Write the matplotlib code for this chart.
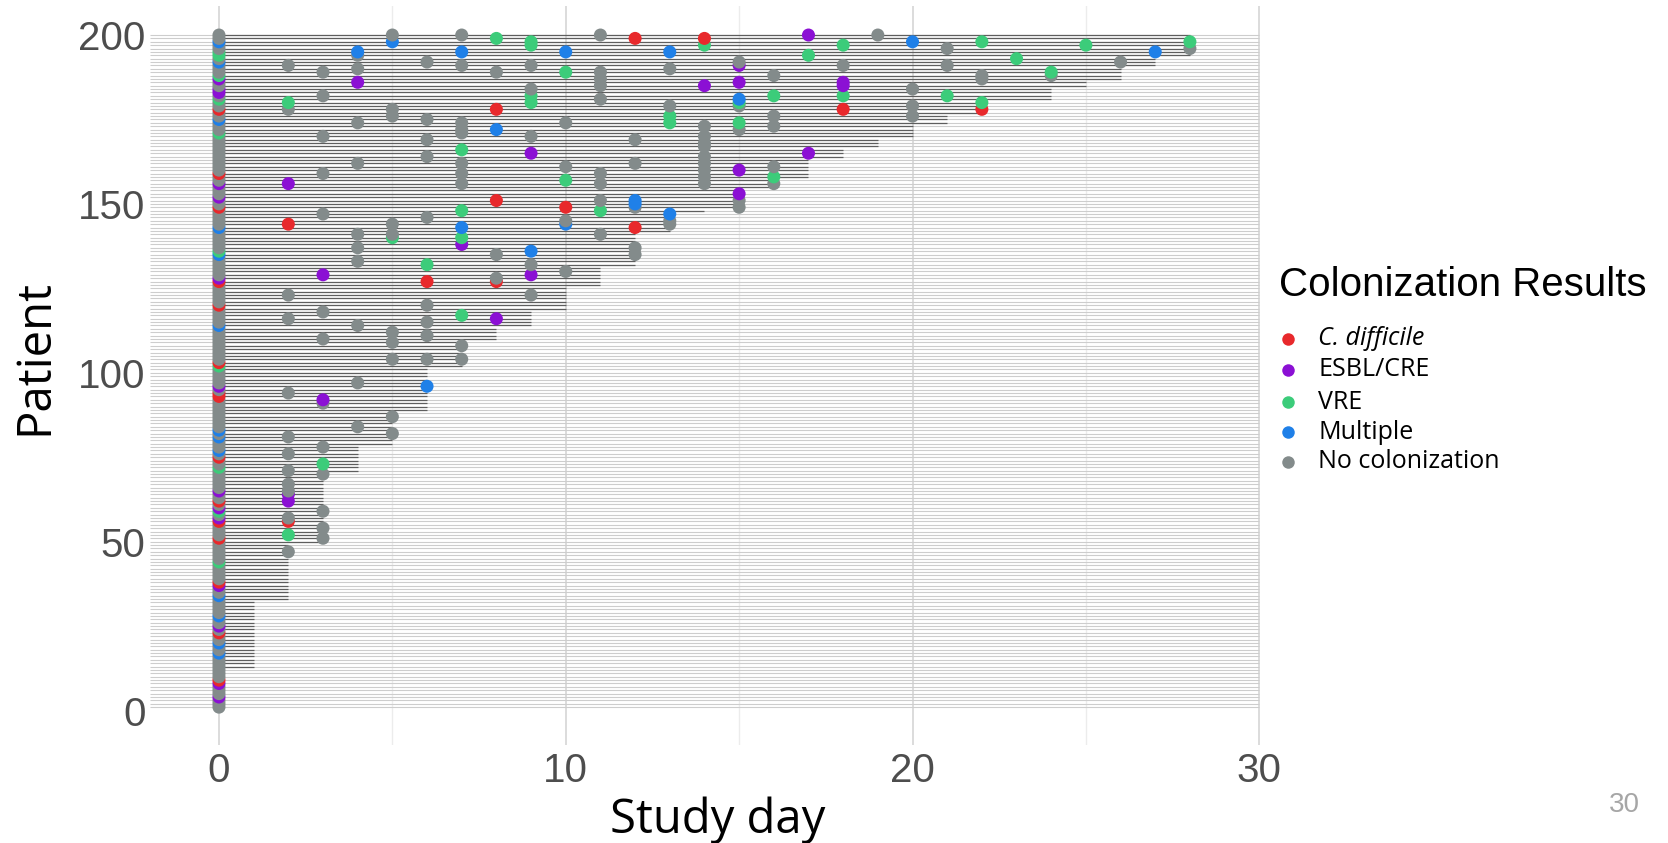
import numpy as np
import matplotlib

matplotlib.use("Agg")
import matplotlib.pyplot as plt
from matplotlib.lines import Line2D

# ---- data -----------------------------------------------------------------
# patients are ordered by their last study day (staircase)
end_day_values = [0, 1, 2, 3, 4, 5, 6, 7, 8, 9, 10, 11, 12, 13, 14, 15, 16,
                  17, 18, 19, 20, 21, 22, 24, 25, 26, 27, 28]
patients_per_end = [12, 20, 17, 21, 8, 10, 13, 8, 4, 5, 7, 6, 10, 6, 1, 6, 3,
                    6, 3, 3, 4, 3, 4, 4, 2, 4, 3, 7]

categories = ["C. difficile", "ESBL/CRE", "VRE", "Multiple", "No colonization"]
codes = ["C", "E", "V", "M", "N"]
colors = ["#e8292c", "#8b10d4", "#3ccc7a", "#1f80e8", "#838b8b"]

# day-0 result for each patient: everyone not listed had no colonization
day0_cdiff = [9, 23, 38, 51, 56, 62, 75, 93, 94, 103, 120, 127, 149, 159, 178]
day0_esbl = [4, 8, 25, 37, 57, 60, 65, 96, 128, 152, 156, 183, 184, 187]
day0_vre = [44, 59, 72, 102, 136, 171, 181, 188, 194, 195]
day0_multiple = [17, 20, 28, 34, 77, 81, 83, 114, 135, 143, 175, 192, 198]

# follow-up samples: study day -> (patient, result code)
followup = {
    2: [(191, "N"), (180, "V"), (178, "N"), (156, "E"), (144, "C"), (123, "N"),
        (116, "N"), (94, "N"), (81, "N"), (76, "N"), (71, "N"), (67, "N"),
        (65, "N"), (64, "E"), (62, "E"), (57, "N"), (56, "C"), (52, "V"), (47, "N")],
    3: [(189, "N"), (182, "N"), (170, "N"), (159, "N"), (147, "N"), (129, "E"),
        (118, "N"), (110, "N"), (92, "E"), (91, "N"), (78, "N"), (73, "V"),
        (70, "N"), (59, "N"), (54, "N"), (51, "N")],
    4: [(195, "M"), (194, "N"), (190, "N"), (186, "E"), (174, "N"), (162, "N"),
        (141, "N"), (137, "N"), (133, "N"), (114, "N"), (97, "N"), (84, "N")],
    5: [(200, "N"), (198, "M"), (178, "N"), (176, "N"), (144, "N"), (141, "N"),
        (140, "V"), (112, "N"), (109, "N"), (104, "N"), (87, "N"), (82, "N")],
    6: [(192, "N"), (175, "N"), (169, "N"), (164, "N"), (146, "N"), (132, "V"),
        (127, "C"), (120, "N"), (115, "N"), (111, "N"), (104, "N"), (96, "M")],
    7: [(200, "N"), (195, "M"), (191, "N"), (174, "N"), (172, "N"), (171, "N"),
        (166, "V"), (162, "N"), (159, "N"), (156, "N"), (148, "V"), (143, "M"),
        (140, "V"), (138, "E"), (117, "V"), (108, "N"), (104, "N")],
    8: [(199, "V"), (189, "N"), (178, "C"), (172, "M"), (151, "C"), (135, "N"),
        (128, "N"), (127, "C"), (116, "E")],
    9: [(198, "V"), (197, "V"), (191, "N"), (184, "N"), (182, "V"), (180, "V"),
        (170, "N"), (165, "E"), (136, "M"), (132, "N"), (129, "E"), (123, "N")],
    10: [(195, "M"), (189, "V"), (174, "N"), (161, "N"), (157, "V"), (149, "C"),
         (145, "N"), (144, "M"), (130, "N")],
    11: [(200, "N"), (189, "N"), (187, "N"), (185, "N"), (181, "N"), (159, "N"),
         (156, "N"), (151, "N"), (148, "V"), (141, "N")],
    12: [(199, "C"), (169, "N"), (162, "N"), (151, "M"), (150, "M"), (149, "N"),
         (143, "C"), (137, "N"), (135, "N")],
    13: [(195, "M"), (190, "N"), (179, "N"), (176, "V"), (174, "V"), (147, "M"),
         (145, "N"), (144, "N")],
    14: [(199, "C"), (197, "V"), (185, "E"), (173, "N"), (170, "N"), (168, "N"),
         (167, "N"), (164, "N"), (162, "N"), (160, "N"), (158, "N"), (156, "N")],
    15: [(192, "N"), (191, "E"), (186, "E"), (181, "M"), (180, "V"), (179, "N"),
         (174, "V"), (172, "N"), (160, "E"), (153, "E"), (151, "N"), (149, "N")],
    16: [(188, "N"), (182, "V"), (176, "N"), (173, "N"), (161, "N"), (158, "V"),
         (156, "N")],
    17: [(200, "E"), (194, "V"), (165, "E")],
    18: [(197, "V"), (191, "N"), (186, "E"), (185, "E"), (182, "V"), (178, "C")],
    19: [(200, "N")],
    20: [(198, "M"), (184, "N"), (179, "N"), (176, "N")],
    21: [(196, "N"), (191, "N"), (182, "V")],
    22: [(198, "V"), (188, "N"), (187, "N"), (180, "V"), (178, "C")],
    23: [(193, "V")],
    24: [(189, "V"), (188, "N")],
    25: [(197, "V")],
    26: [(192, "N")],
    27: [(195, "M")],
    28: [(198, "V"), (196, "N")],
}

x_ticks = [0, 10, 20, 30]
y_ticks = [0, 50, 100, 150, 200]

# ---- assemble points --------------------------------------------------------
end_day = np.repeat(end_day_values, patients_per_end)
patient = np.arange(1, len(end_day) + 1)
code_color = dict(zip(codes, colors))

day0_code = {p: "N" for p in patient}
for plist, c in [(day0_cdiff, "C"), (day0_esbl, "E"), (day0_vre, "V"),
                 (day0_multiple, "M")]:
    for p in plist:
        day0_code[p] = c

pt_day, pt_pat, pt_col = [], [], []
for p in patient:
    pt_day.append(0)
    pt_pat.append(p)
    pt_col.append(code_color[day0_code[p]])
for d, samples in followup.items():
    for p, c in samples:
        pt_day.append(d)
        pt_pat.append(p)
        pt_col.append(code_color[c])
order = np.argsort(pt_pat, kind="stable")
pt_day = np.array(pt_day)[order]
pt_pat = np.array(pt_pat)[order]
pt_col = np.array(pt_col)[order]

# ---- figure -----------------------------------------------------------------
fig = plt.figure(figsize=(16.68, 8.43), dpi=100)
ax = fig.add_axes([0.0897, 0.1163, 0.6663, 0.8766])
ax.set_xlim(-2, 30.05)
ax.set_ylim(-10.2, 208.6)

for xv in [5, 15, 25]:
    ax.axvline(xv, color="#ececec", lw=1.0, zorder=0)
for xv in x_ticks:
    ax.axvline(xv, color="#d2d2d2", lw=1.1, zorder=0)

ax.hlines(patient, -2, 30, color="#cdcdcd", lw=0.8, zorder=1)
ax.hlines(patient, 0, end_day, color="#5e5e5e", lw=0.9, zorder=2)
ax.scatter(pt_day, pt_pat, s=88, c=pt_col, linewidths=0, zorder=3)

ax.set_xticks(x_ticks)
ax.set_yticks(y_ticks)
ax.tick_params(length=0, labelsize=29, labelcolor="#4d4d4d")
ax.tick_params(axis="x", pad=5)
ax.tick_params(axis="y", pad=3)
for lab in ax.get_xticklabels() + ax.get_yticklabels():
    lab.set_family("Liberation Sans")
for s in ax.spines.values():
    s.set_visible(False)

fig.text(0.43, 0.027, "Study day", ha="center", va="center",
         fontsize=34, family="Open Sans", color="black")
fig.text(0.021, 0.5765, "Patient", ha="center", va="center", rotation=90,
         fontsize=34, family="Open Sans", color="black")

# legend
fig.text(0.7668, 0.662, "Colonization Results", ha="left", va="center",
         fontsize=29, family="Liberation Sans", color="black")
leg_y = [0.5979, 0.5611, 0.5231, 0.4875, 0.4520]
for lab, col, yy in zip(categories, colors, leg_y):
    fig.add_artist(Line2D([0.7722], [yy], marker="o", ms=9, color=col,
                          mec="none", ls="none", transform=fig.transFigure))
    fig.text(0.7902, yy, lab, ha="left", va="center", fontsize=18,
             family="Open Sans", color="black",
             style="italic" if lab == "C. difficile" else "normal")

fig.text(0.974, 0.045, "30", ha="center", va="center", fontsize=20,
         family="Liberation Sans", color="#a6a6a6")

fig.savefig("out.png", dpi=100)
